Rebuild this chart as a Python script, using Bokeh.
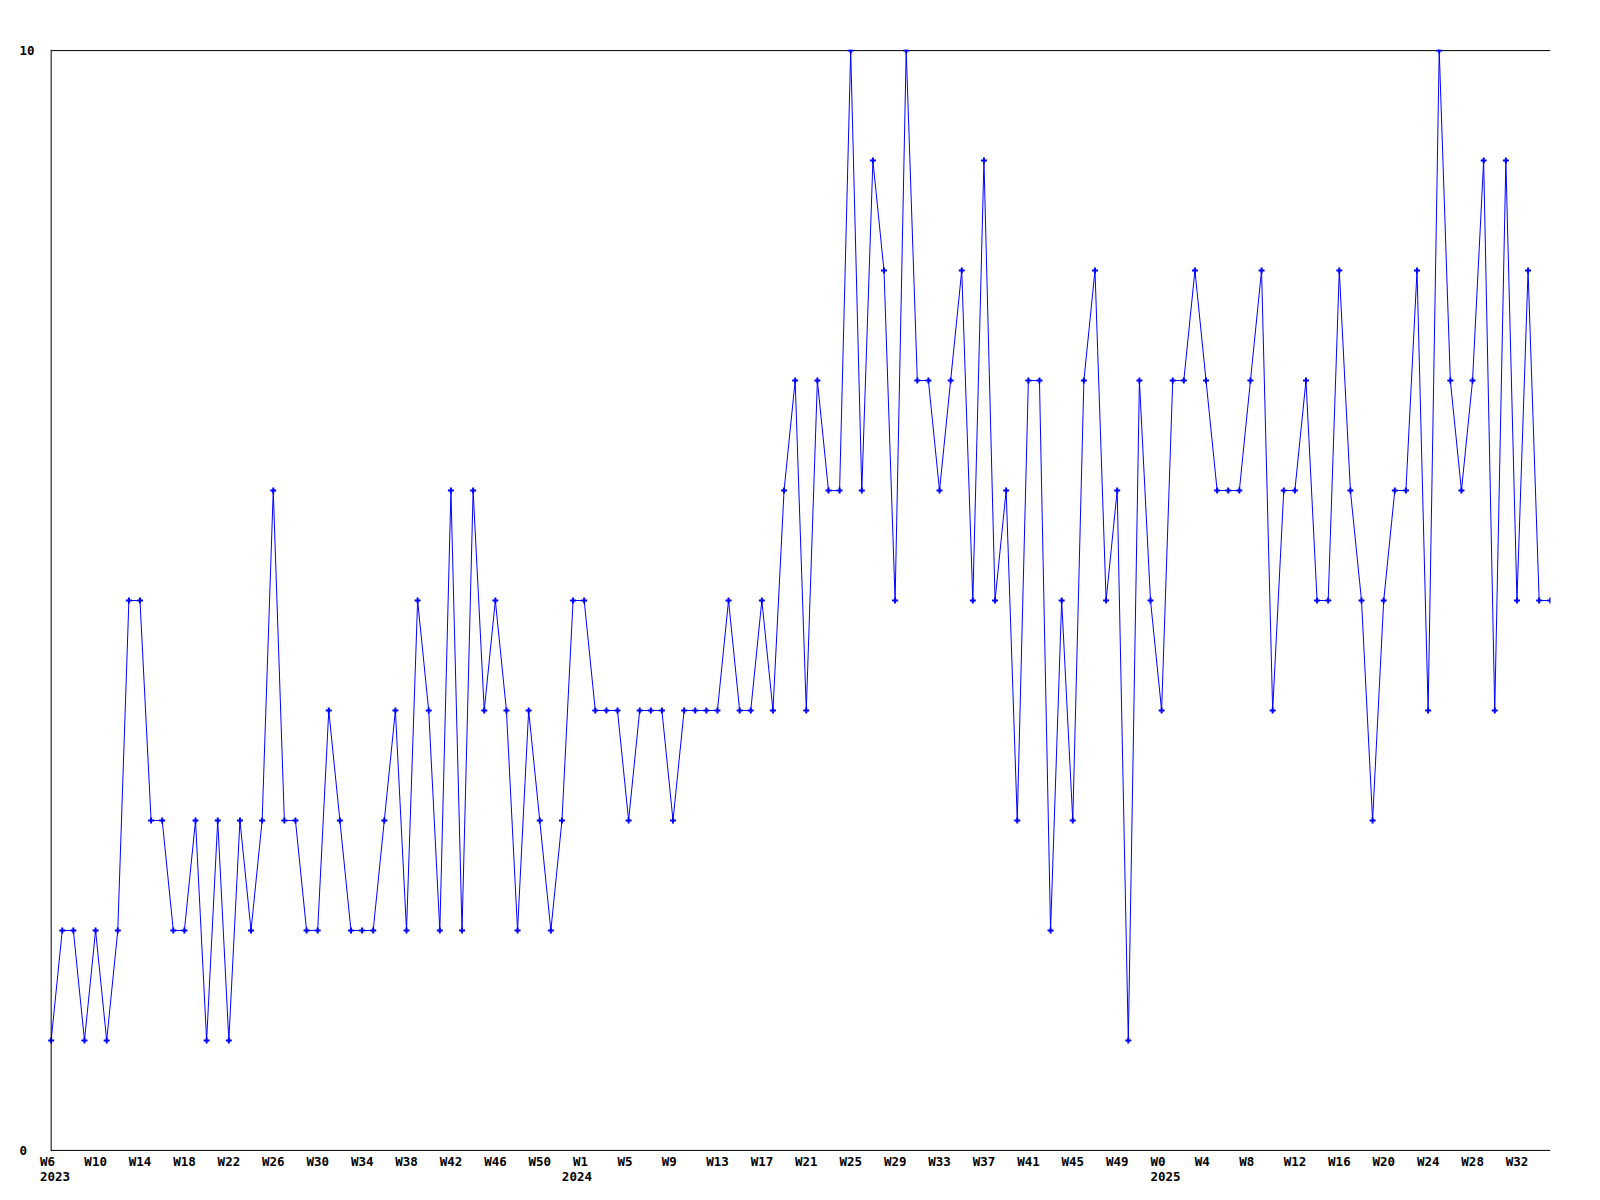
from bokeh.plotting import figure
from bokeh.models import Range1d, FixedTicker, Span, LinearAxis
from bokeh.embed import file_html
from bokeh.resources import INLINE

# ---- data ----
years = [2023] * 47 + [2024] * 53 + [2025] * 36
weeks = list(range(6, 53)) + list(range(0, 53)) + list(range(0, 36))
values = [
    1, 2, 2, 1, 2, 1, 2, 5, 5, 3,
    3, 2, 2, 3, 1, 3, 1, 3, 2, 3,
    6, 3, 3, 2, 2, 4, 3, 2, 2, 2,
    3, 4, 2, 5, 4, 2, 6, 2, 6, 4,
    5, 4, 2, 4, 3, 2, 3, 5, 5, 4,
    4, 4, 3, 4, 4, 4, 3, 4, 4, 4,
    4, 5, 4, 4, 5, 4, 6, 7, 4, 7,
    6, 6, 10, 6, 9, 8, 5, 10, 7, 7,
    6, 7, 8, 5, 9, 5, 6, 3, 7, 7,
    2, 5, 3, 7, 8, 5, 6, 1, 7, 5,
    4, 7, 7, 8, 7, 6, 6, 6, 7, 8,
    4, 6, 6, 7, 5, 5, 8, 6, 5, 3,
    5, 6, 6, 8, 4, 10, 7, 6, 7, 9,
    4, 9, 5, 8, 5, 5,
]
y_ticks = [0, 10]
label_every = 4

idx = list(range(len(values)))
x_start = -1.05
x_end = len(values) - 1 + 0.02
y_lo, y_hi = min(y_ticks), max(y_ticks)

FONT = "DejaVu Sans Mono"
FSIZE = "12.5px"
CHAR_W = 7.52          # px per character of the mono font
LEFT_SHIFT = 11.2      # labels start this many px left of their point
FRAME_W = 1511
STEP = FRAME_W / (x_end - x_start)   # px per week


def centre_offset(text):
    # labels are left-aligned a little left of their point; axes centre
    # them, so move the tick to where the label's centre should be
    return round((-LEFT_SHIFT + len(text) * CHAR_W / 2) / STEP, 4)


p = figure(
    width=39 + FRAME_W + 10, height=1196,
    x_range=Range1d(x_start, x_end),
    y_range=Range1d(y_lo - 0.01, y_hi + 0.01),
    output_backend="svg", toolbar_location=None,
    min_border_left=39, min_border_right=10,
    min_border_top=49, min_border_bottom=45,
)
p.outline_line_color = None
p.grid.visible = False
p.background_fill_color = "white"
p.border_fill_color = "white"

# week labels (every 4th week) and year labels (first week of each year)
week_ticks, week_over = [], {}
for i in range(0, len(values), label_every):
    wl = f"W{weeks[i]}"
    t = round(i + centre_offset(wl), 4)
    week_ticks.append(t)
    week_over[t] = wl

year_ticks, year_over = [], {}
for i in idx:
    if i == 0 or years[i] != years[i - 1]:
        yl = str(years[i])
        ty = round(i + centre_offset(yl), 4)
        year_ticks.append(ty)
        year_over[ty] = yl


def style_axis(ax, ticks, over, standoff):
    ax.ticker = FixedTicker(ticks=ticks)
    ax.major_label_overrides = over
    ax.axis_line_color = None
    ax.major_tick_in = 0
    ax.major_tick_out = 0
    ax.minor_tick_line_color = None
    ax.major_label_standoff = standoff
    ax.major_label_text_font = FONT
    ax.major_label_text_font_size = FSIZE
    ax.major_label_text_font_style = "bold"
    ax.major_label_text_color = "black"


style_axis(p.xaxis[0], week_ticks, week_over, 2)
year_axis = LinearAxis()
style_axis(year_axis, year_ticks, year_over, 0)
p.add_layout(year_axis, "below")

# y labels ("0" padded so both labels start at the same x, as in the source)
style_axis(p.yaxis[0], y_ticks, {0: "0\u00a0", 10: "10"}, 5)

# chart border: left, top, bottom
p.add_layout(Span(location=0, dimension="height", line_color="black", line_width=1))
p.segment(x0=[0, 0], y0=[y_lo, y_hi], x1=[x_end, x_end], y1=[y_lo, y_hi],
          line_color="black", line_width=1)

# data
p.line(idx, values, line_color="#0000ff", line_width=1)
p.scatter(idx, values, marker="cross", size=6, line_width=2, line_color="#0000ff")

open("out.html", "w").write(file_html(p, INLINE))
